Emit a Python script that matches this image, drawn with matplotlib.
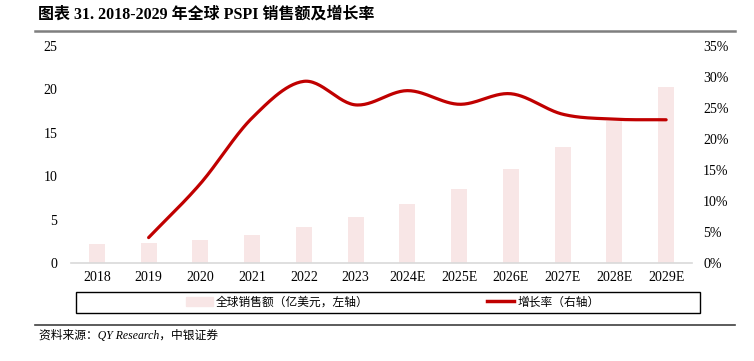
import numpy as np
import matplotlib.pyplot as plt
from matplotlib.patches import Rectangle
from matplotlib.lines import Line2D
from matplotlib.ticker import FuncFormatter

plt.rcParams['font.family'] = ['Liberation Serif', 'Noto Sans CJK SC']

years = ['2018', '2019', '2020', '2021', '2022', '2023',
         '2024E', '2025E', '2026E', '2027E', '2028E', '2029E']
sales = [2.2, 2.35, 2.65, 3.27, 4.2, 5.3, 6.75, 8.5, 10.8, 13.4, 16.4, 20.3]
growth = [np.nan, 4.1, 12.8, 23.4, 29.3, 25.5, 27.8, 25.6, 27.3, 24.0, 23.2, 23.1]

bar_color = '#F8E6E6'
line_color = '#C00000'


def smooth(xs, ys, n=30):
    # catmull-rom, close to excel's smoothed line
    xs = np.asarray(xs, float); ys = np.asarray(ys, float)
    px = np.concatenate([[2 * xs[0] - xs[1]], xs, [2 * xs[-1] - xs[-2]]])
    py = np.concatenate([[2 * ys[0] - ys[1]], ys, [2 * ys[-1] - ys[-2]]])
    ox, oy = [], []
    t = np.linspace(0, 1, n)
    for i in range(1, len(px) - 2):
        for p, o in ((px, ox), (py, oy)):
            p0, p1, p2, p3 = p[i - 1], p[i], p[i + 1], p[i + 2]
            o.extend(0.5 * (2 * p1 + (-p0 + p2) * t
                            + (2 * p0 - 5 * p1 + 4 * p2 - p3) * t ** 2
                            + (-p0 + 3 * p1 - 3 * p2 + p3) * t ** 3))
    return np.array(ox), np.array(oy)


fig = plt.figure(figsize=(7.54, 3.61), dpi=100)
ax = fig.add_axes([71 / 754, 1 - 263 / 361, 621 / 754, 217 / 361])
ax2 = ax.twinx()

x = np.arange(len(years))
ax.bar(x, sales, width=0.31, color=bar_color)
ax.set_xlim(-0.5, len(years) - 0.5)
ax.set_ylim(0, 25)
ax.set_yticks(range(0, 26, 5))
ax.set_xticks(x)
ax.set_xticklabels(years)

g = np.array(growth)
ok = ~np.isnan(g)
sx, sy = smooth(x[ok], g[ok])
ax2.plot(sx, sy, color=line_color, lw=2.3, solid_capstyle='round')
ax2.set_ylim(0, 35)
ax2.set_yticks(range(0, 36, 5))
ax2.yaxis.set_major_formatter(FuncFormatter(lambda v, p: '%d%%' % v))

for a in (ax, ax2):
    for s in a.spines.values():
        s.set_visible(False)
    a.tick_params(length=0, labelsize=10)
ax.spines['bottom'].set_visible(True)
ax.spines['bottom'].set_color('#D9D9D9')
ax.spines['bottom'].set_linewidth(1.2)
ax.tick_params(axis='y', pad=10)
ax.tick_params(axis='x', pad=6)
ax2.tick_params(axis='y', pad=8)

# title and rules
fig.text(38 / 754, 1 - 15 / 361, '图表 31. 2018-2029 年全球 PSPI 销售额及增长率',
         fontsize=11.5, fontweight='bold', va='center', ha='left')
fig.add_artist(Line2D([35 / 754, 735 / 754], [1 - 31 / 361] * 2, color='#7F7F7F', lw=1.8))
fig.add_artist(Line2D([35 / 754, 735 / 754], [1 - 325 / 361] * 2, color='#404040', lw=1.2))
fig.text(39 / 754, 1 - 336 / 361, '资料来源：QY Research，中银证券',
         fontsize=8.5, style='italic', va='center', ha='left')

# legend box
fig.add_artist(Rectangle((76 / 754, 1 - 313 / 361), 624 / 754, 21 / 361,
                         transform=fig.transFigure, fill=False, ec='black', lw=1.0))
handles = [Rectangle((0, 0), 1, 1, color=bar_color),
           Line2D([], [], color=line_color, lw=2.5)]
fig.legend(handles, ['全球销售额（亿美元，左轴）', '增长率（右轴）'],
           loc='center left', bbox_to_anchor=(186 / 754, 1 - 302.5 / 361),
           ncol=2, frameon=False, fontsize=8.45, borderpad=0, borderaxespad=0,
           handlelength=2.3, handleheight=0.7, handletextpad=0.25, columnspacing=10.1)

fig.savefig('out.png', dpi=100)
